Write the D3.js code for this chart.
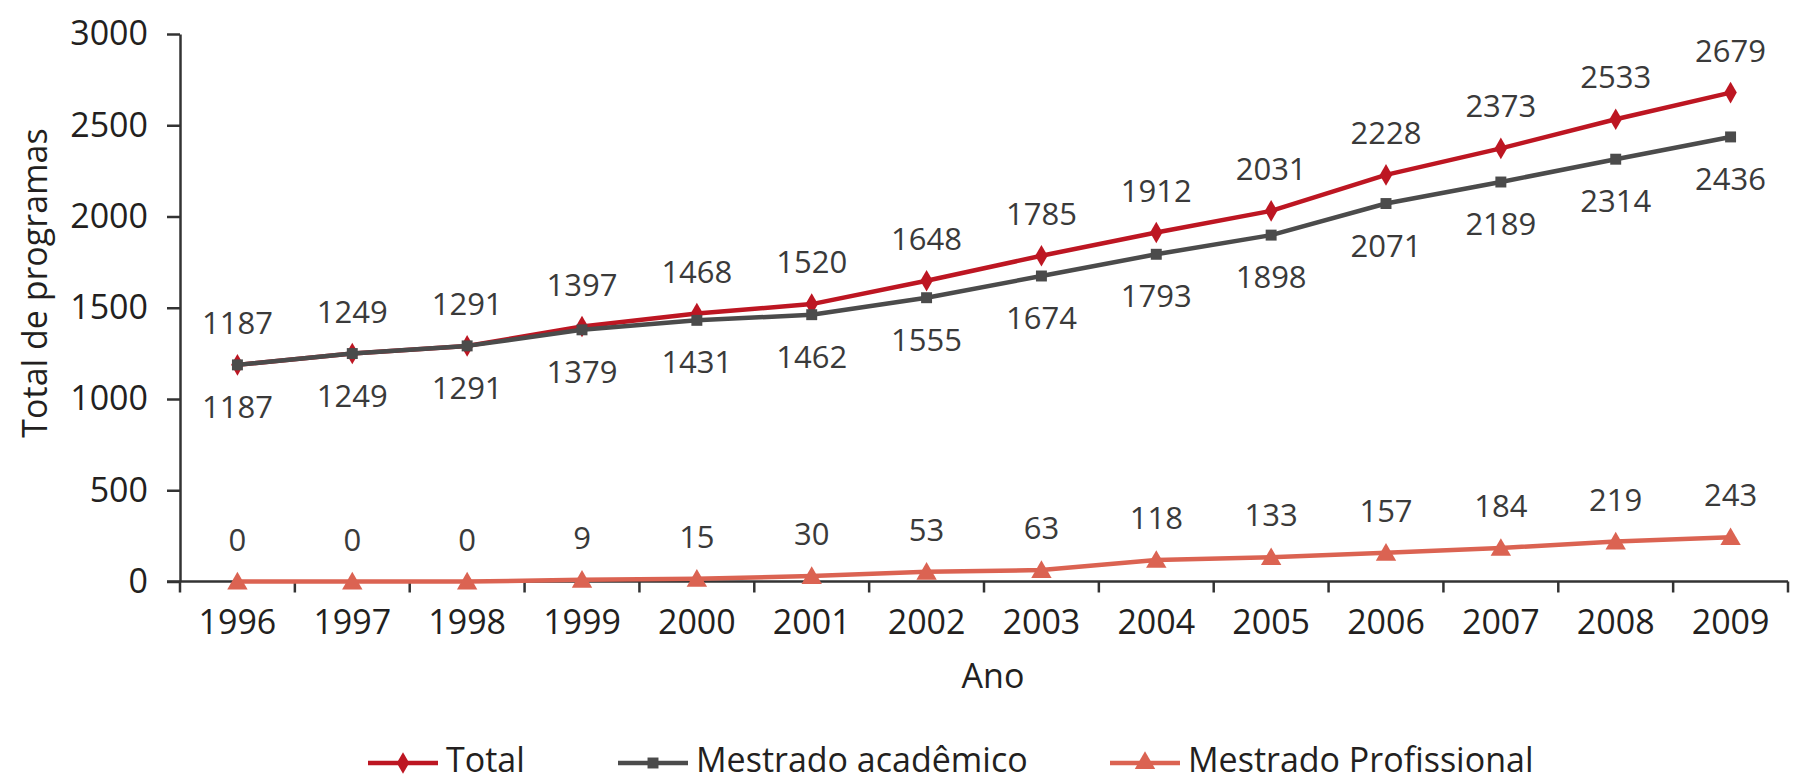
<!DOCTYPE html>
<html>
<head>
<meta charset="utf-8">
<script src="https://cdn.jsdelivr.net/npm/d3@7"></script>
<style>
  html, body { margin: 0; padding: 0; background: #fff; }
  svg { display: block; }
  text { font-family: "Open Sans", "Noto Sans", sans-serif; }
</style>
</head>
<body>
<svg id="chart" width="1794" height="782"></svg>
<script>
// Programas de mestrado por ano
const years = ["1996","1997","1998","1999","2000","2001","2002","2003","2004","2005","2006","2007","2008","2009"];
const total = [1187,1249,1291,1397,1468,1520,1648,1785,1912,2031,2228,2373,2533,2679];
const academico = [1187,1249,1291,1379,1431,1462,1555,1674,1793,1898,2071,2189,2314,2436];
const profissional = [0,0,0,9,15,30,53,63,118,133,157,184,219,243];
const yTicks = [0,500,1000,1500,2000,2500,3000];
const seriesNames = ["Total","Mestrado acadêmico","Mestrado Profissional"];

const colors = { total: "#bd1622", acad: "#4b4b4b", prof: "#db6352" };

const svg = d3.select("#chart");
const x = d3.scaleBand().domain(years).range([180, 1788]).padding(0);
const y = d3.scaleLinear().domain([0, 3000]).range([581.5, 34]);
const cx = d => x(d) + x.bandwidth() / 2;

// y axis
const yAxis = svg.append("g").attr("transform", "translate(180,0)")
  .call(d3.axisLeft(y).tickValues(yTicks).tickSize(13).tickSizeOuter(0).tickPadding(19).tickFormat(d3.format("d")));
yAxis.select(".domain").attr("stroke", "#333").attr("stroke-width", 2.5);
yAxis.selectAll(".tick line").attr("stroke", "#333").attr("stroke-width", 2.5);
yAxis.selectAll(".tick text").attr("font-size", 34).attr("fill", "#231f20").attr("font-weight", 500);

// x axis: labels at band centres, ticks at band boundaries
const xAxis = svg.append("g").attr("transform", `translate(0,${y(0)})`)
  .call(d3.axisBottom(x).tickSize(0).tickPadding(28));
xAxis.select(".domain").remove();
xAxis.selectAll(".tick text").attr("font-size", 34).attr("fill", "#231f20").attr("font-weight", 500);
xAxis.append("line").attr("x1", 167).attr("x2", 1788).attr("y1", 0).attr("y2", 0)
  .attr("stroke", "#333").attr("stroke-width", 2.5);
xAxis.selectAll(".bound").data(years.map(d => x(d)).concat([x.range()[1]]))
  .join("line").attr("class", "bound")
  .attr("x1", d => d).attr("x2", d => d).attr("y1", 0).attr("y2", 11)
  .attr("stroke", "#333").attr("stroke-width", 2.5);

// axis titles
svg.append("text").attr("x", 993).attr("y", 688).attr("text-anchor", "middle")
  .attr("font-size", 34).attr("fill", "#231f20").text("Ano");
svg.append("text").attr("transform", "translate(47,283) rotate(-90)").attr("text-anchor", "middle")
  .attr("font-size", 34).attr("fill", "#231f20").text("Total de programas");

const line = d3.line().x((d, i) => cx(years[i])).y(d => y(d));

const sym = {
  diamond: d3.symbol().type(d3.symbolDiamond).size(135)(),
  square: d3.symbol().type(d3.symbolSquare).size(120)(),
  triangle: d3.symbol().type(d3.symbolTriangle).size(180)()
};

function drawSeries(values, color, shape) {
  svg.append("path").datum(values).attr("d", line)
    .attr("fill", "none").attr("stroke", color).attr("stroke-width", 4.5).attr("stroke-linejoin", "round");
  svg.append("g").selectAll("path").data(values).join("path")
    .attr("d", sym[shape])
    .attr("transform", (d, i) => `translate(${cx(years[i])},${y(d) + (shape === "triangle" ? 2 : 0)})`)
    .attr("fill", color);
}

function drawLabels(values, dy) {
  svg.append("g").selectAll("text").data(values).join("text")
    .attr("x", (d, i) => cx(years[i]))
    .attr("y", d => y(d) + dy)
    .attr("text-anchor", "middle")
    .attr("font-size", 31).attr("font-weight", 400).attr("fill", "#3a3a3a")
    .text(d => d);
}

drawSeries(profissional, colors.prof, "triangle");
drawSeries(total, colors.total, "diamond");
drawSeries(academico, colors.acad, "square");

drawLabels(total, -31);
drawLabels(academico, 53);
drawLabels(profissional, -31);

// legend
const legendItems = [
  { name: seriesNames[0], color: colors.total, shape: "diamond", x0: 368 },
  { name: seriesNames[1], color: colors.acad, shape: "square", x0: 618 },
  { name: seriesNames[2], color: colors.prof, shape: "triangle", x0: 1110 }
];
const lg = svg.append("g").selectAll("g").data(legendItems).join("g")
  .attr("transform", d => `translate(${d.x0},763)`);
lg.append("line").attr("x1", 0).attr("x2", 70).attr("y1", 0).attr("y2", 0)
  .attr("stroke", d => d.color).attr("stroke-width", 4.5);
lg.append("path").attr("d", d => sym[d.shape]).attr("transform", "translate(35,0)")
  .attr("fill", d => d.color);
lg.append("text").attr("x", 78).attr("y", 9).attr("font-size", 34).attr("fill", "#231f20")
  .text(d => d.name);
</script>
</body>
</html>
